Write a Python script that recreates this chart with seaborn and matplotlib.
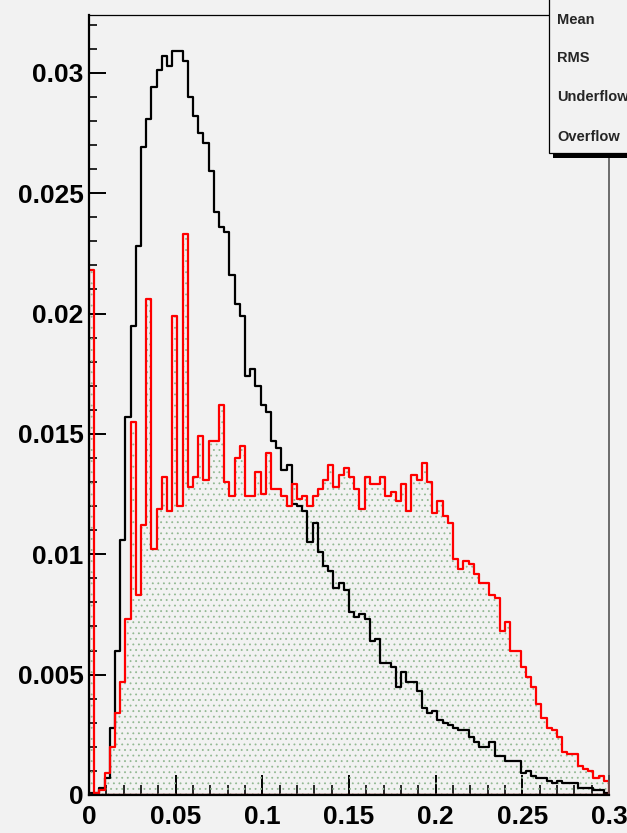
import numpy as np
import matplotlib
matplotlib.use("Agg")
import matplotlib.pyplot as plt
import seaborn as sns
from matplotlib.patches import Rectangle

# 100 equal bins on [0, 0.3]
bin_edges = np.linspace(0.0, 0.3, 101).tolist()
bin_centers = [0.5 * (a + b) for a, b in zip(bin_edges[:-1], bin_edges[1:])]

# normalised contents of the black (outline only) histogram
black_vals = [
    0.0001, 0.0001, 0.0003, 0.0007, 0.0028, 0.0060, 0.0106, 0.0157, 0.0195, 0.0228,
    0.0269, 0.0281, 0.0294, 0.0301, 0.0307, 0.0303, 0.0309, 0.0309, 0.0305, 0.0290,
    0.0282, 0.0275, 0.0271, 0.0259, 0.0242, 0.0236, 0.0234, 0.0216, 0.0204, 0.0199,
    0.0174, 0.0177, 0.0170, 0.0162, 0.0159, 0.0147, 0.0144, 0.0135, 0.0137, 0.0121,
    0.0120, 0.0118, 0.0105, 0.0113, 0.0101, 0.0095, 0.0093, 0.0086, 0.0088, 0.0085,
    0.0076, 0.0074, 0.0075, 0.0073, 0.0064, 0.0065, 0.0055, 0.0055, 0.0053, 0.0045,
    0.0051, 0.0047, 0.0047, 0.0043, 0.0036, 0.0034, 0.0035, 0.0031, 0.0030, 0.0029,
    0.0028, 0.0027, 0.0027, 0.0024, 0.0022, 0.0020, 0.0020, 0.0022, 0.0016, 0.0016,
    0.0014, 0.0014, 0.0014, 0.0009, 0.0010, 0.0008, 0.0007, 0.0007, 0.0006, 0.0005,
    0.0006, 0.0005, 0.0005, 0.0005, 0.0003, 0.0003, 0.0003, 0.0002, 0.0002, 0.0001,
]

# normalised contents of the red (dot-filled) histogram
red_vals = [
    0.0218, 0.0001, 0.0002, 0.0009, 0.0020, 0.0034, 0.0047, 0.0073, 0.0155, 0.0083,
    0.0112, 0.0206, 0.0102, 0.0119, 0.0132, 0.0118, 0.0199, 0.0120, 0.0233, 0.0128,
    0.0132, 0.0149, 0.0131, 0.0147, 0.0147, 0.0162, 0.0130, 0.0124, 0.0140, 0.0145,
    0.0124, 0.0124, 0.0134, 0.0125, 0.0142, 0.0127, 0.0127, 0.0124, 0.0120, 0.0129,
    0.0123, 0.0124, 0.0120, 0.0124, 0.0127, 0.0131, 0.0137, 0.0128, 0.0133, 0.0136,
    0.0132, 0.0127, 0.0119, 0.0132, 0.0129, 0.0129, 0.0132, 0.0124, 0.0126, 0.0122,
    0.0129, 0.0118, 0.0133, 0.0131, 0.0138, 0.0130, 0.0117, 0.0122, 0.0116, 0.0113,
    0.0098, 0.0094, 0.0097, 0.0096, 0.0092, 0.0088, 0.0088, 0.0083, 0.0082, 0.0068,
    0.0072, 0.0060, 0.0060, 0.0053, 0.0049, 0.0045, 0.0038, 0.0032, 0.0028, 0.0027,
    0.0024, 0.0018, 0.0017, 0.0017, 0.0012, 0.0011, 0.0010, 0.0007, 0.0008, 0.0006,
]

x_ticks = [0.0, 0.05, 0.1, 0.15, 0.2, 0.25, 0.3]
x_tick_labels = ["0", "0.05", "0.1", "0.15", "0.2", "0.25", "0.3"]
y_ticks = [0.0, 0.005, 0.01, 0.015, 0.02, 0.025, 0.03]
y_tick_labels = ["0", "0.005", "0.01", "0.015", "0.02", "0.025", "0.03"]
stat_names = ["Mean", "RMS", "Underflow", "Overflow"]

sns.set_theme(style="ticks")
plt.rcParams["font.family"] = ["Liberation Sans", "DejaVu Sans"]
plt.rcParams["font.weight"] = "bold"
plt.rcParams["hatch.linewidth"] = 0.6

W, H = 627, 833
bg = "#f2f2f2"
fig = plt.figure(figsize=(W / 100, H / 100), dpi=100, facecolor=bg)
ax = fig.add_axes([89 / W, 1 - 795 / H, (609 - 89) / W, (795 - 15) / H])
ax.set_facecolor(bg)

# dotted fill under the red histogram
sns.histplot(x=bin_centers, weights=red_vals, bins=bin_edges, element="step",
             fill=True, color="#93b993", facecolor=(0, 0, 0, 0), edgecolor="#93b993",
             linewidth=0, hatch="...", alpha=1, ax=ax)
# black outline
sns.histplot(x=bin_centers, weights=black_vals, bins=bin_edges, element="step",
             fill=True, color="black", facecolor=(0, 0, 0, 0), edgecolor="black",
             linewidth=1.6, alpha=1, ax=ax)
# red outline
sns.histplot(x=bin_centers, weights=red_vals, bins=bin_edges, element="step",
             fill=True, color="#ff0000", facecolor=(0, 0, 0, 0), edgecolor="#ff0000",
             linewidth=1.6, alpha=1, ax=ax)

ax.set_xlabel("")
ax.set_ylabel("")
ax.set_xlim(0, 0.3)
ax.set_ylim(0, 0.0324)

ax.set_xticks(x_ticks)
ax.set_xticklabels(x_tick_labels)
ax.set_xticks(np.arange(0, 0.3001, 0.01), minor=True)
ax.set_yticks(y_ticks)
ax.set_yticklabels(y_tick_labels)
ax.set_yticks(np.arange(0, 0.03241, 0.001), minor=True)

ax.tick_params(axis="x", which="major", direction="in", length=14.4, width=1.4,
               pad=7, labelsize=19, colors="black")
ax.tick_params(axis="x", which="minor", direction="in", length=7.2, width=1.4)
ax.tick_params(axis="y", which="major", direction="in", length=12.2, width=1.4,
               pad=4, labelsize=19, colors="black")
ax.tick_params(axis="y", which="minor", direction="in", length=5.8, width=1.4)
for lab in ax.get_xticklabels() + ax.get_yticklabels():
    lab.set_fontweight("bold")

for side, lw, col in [("left", 1.6, "black"), ("bottom", 1.6, "black"),
                      ("top", 0.9, "black"), ("right", 1.2, "#555555")]:
    ax.spines[side].set_visible(True)
    ax.spines[side].set_linewidth(lw)
    ax.spines[side].set_color(col)

# statistics box in the upper right corner, with drop shadow
fig.add_artist(Rectangle((553 / W, 1 - 158 / H), 0.5, 0.5, transform=fig.transFigure,
                         facecolor="black", edgecolor="none", zorder=5))
fig.add_artist(Rectangle((549 / W, 1 - 153 / H), 0.5, 0.5, transform=fig.transFigure,
                         facecolor=bg, edgecolor="black", linewidth=0.9, zorder=6))
for name, ypx in zip(stat_names, [20, 58, 97, 137]):
    fig.text(557 / W, 1 - ypx / H, name, fontsize=10.5, fontweight="bold",
             ha="left", va="center", zorder=7)

fig.savefig("out.png", dpi=100, facecolor=bg)
